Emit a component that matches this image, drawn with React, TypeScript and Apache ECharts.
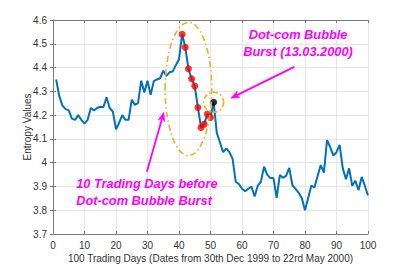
import React, { useEffect, useRef } from "react";
import * as echarts from "echarts";

const days: number[] = Array.from({ length: 100 }, (_, i) => i + 1);
const entropy: number[] = [
  4.35, 4.28, 4.24, 4.225, 4.22, 4.185, 4.18, 4.2, 4.18, 4.165,
  4.18, 4.23, 4.22, 4.23, 4.235, 4.233, 4.275, 4.23, 4.215, 4.14,
  4.168, 4.2, 4.18, 4.18, 4.265, 4.243, 4.25, 4.345, 4.295, 4.345,
  4.285, 4.343, 4.35, 4.355, 4.387, 4.365, 4.38, 4.383, 4.41, 4.435,
  4.54, 4.485, 4.395, 4.353, 4.322, 4.232, 4.148, 4.162, 4.205, 4.19,
  4.254, 4.125, 4.086, 4.044, 4.06, 4.044, 4.017, 3.92, 3.91, 3.89,
  3.88, 3.89, 3.9, 3.858, 3.903, 3.92, 3.983, 3.95, 3.935, 3.935,
  3.852, 3.948, 3.937, 3.944, 3.978, 3.905, 3.89, 3.873, 3.85, 3.8,
  3.85, 3.903, 3.896, 3.944, 3.99, 3.958, 4.095, 4.065, 4.03, 4.044,
  4.075, 3.976, 3.93, 3.976, 3.903, 3.924, 3.884, 3.94, 3.903, 3.862,
];
const burstDay = 51;
const preDays: number[] = [41, 42, 43, 44, 45, 46, 47, 48, 49, 50];
const xTicks = { min: 0, max: 100, interval: 10 };
const yTicks = { min: 3.7, max: 4.6, interval: 0.1 };

const FONT = "Liberation Sans, Arial, sans-serif";
const MAG = "#FF00FF";
const ORANGE = "#EDB120";

export default function App() {
  const ref = useRef<HTMLDivElement>(null);
  useEffect(() => {
    if (!ref.current) return;
    document.body.style.margin = "0";
    const chart = echarts.init(ref.current, null, { renderer: "svg" });
    const axisLine = { show: true, lineStyle: { color: "#7a7a7a", width: 1 } };
    const tick = { show: true, inside: true, length: 3, lineStyle: { color: "#7a7a7a" } };
    chart.setOption({
      animation: false,
      grid: { left: 53, right: 39, top: 20, bottom: 29.5 },
      xAxis: [
        {
          type: "value", min: xTicks.min, max: xTicks.max, interval: xTicks.interval,
          axisLine, axisTick: tick,
          axisLabel: { color: "#333", fontSize: 10, fontFamily: FONT, margin: 6 },
          splitLine: { show: true, lineStyle: { color: "#e6e6e6", width: 1 } },
          name: "100 Trading Days (Dates from 30th Dec 1999 to 22rd May 2000)",
          nameLocation: "middle", nameGap: 19, nameMoveOverlap: false,
          nameTextStyle: { color: "#333", fontSize: 10, fontFamily: FONT },
        },
        {
          type: "value", position: "top", min: xTicks.min, max: xTicks.max, interval: xTicks.interval,
          axisLine, axisTick: tick, axisLabel: { show: false }, splitLine: { show: false },
        },
      ],
      yAxis: [
        {
          type: "value", min: yTicks.min, max: yTicks.max, interval: yTicks.interval,
          axisLine, axisTick: tick,
          axisLabel: { color: "#333", fontSize: 10, fontFamily: FONT, margin: 6 },
          splitLine: { show: true, lineStyle: { color: "#e6e6e6", width: 1 } },
          name: "Entropy Values", nameLocation: "middle", nameGap: 21, nameMoveOverlap: false,
          nameTextStyle: { color: "#333", fontSize: 10, fontFamily: FONT },
        },
        {
          type: "value", position: "right", min: yTicks.min, max: yTicks.max, interval: yTicks.interval,
          axisLine, axisTick: tick, axisLabel: { show: false }, splitLine: { show: false },
        },
      ],
      series: [
        {
          type: "line",
          data: days.map((d, i) => [d, entropy[i]]),
          showSymbol: false, symbol: "none",
          lineStyle: { color: "#0072BD", width: 2 },
          z: 2,
        },
        {
          type: "scatter",
          data: preDays.map((d) => [d, entropy[d - 1]]),
          symbol: "circle", symbolSize: 7,
          itemStyle: { color: "#FF0000" },
          z: 3,
        },
        {
          type: "scatter",
          data: [[burstDay, entropy[burstDay - 1]]],
          symbol: "circle", symbolSize: 7,
          itemStyle: { color: "#000000" },
          z: 4,
        },
      ],
    });

    const px = (x: number, y: number) => chart.convertToPixel({ gridIndex: 0 }, [x, y]) as number[];

    const arrow = (from: number[], to: number[]) => {
      const a = px(from[0], from[1]);
      const b = px(to[0], to[1]);
      const dx = b[0] - a[0], dy = b[1] - a[1];
      const L = Math.hypot(dx, dy);
      const ux = dx / L, uy = dy / L;
      const nx = -uy, ny = ux;
      const hl = 9, hw = 3.5, notch = 6.5;
      const base = [b[0] - ux * hl, b[1] - uy * hl];
      const back = [b[0] - ux * notch, b[1] - uy * notch];
      return [
        {
          type: "line",
          shape: { x1: a[0], y1: a[1], x2: back[0], y2: back[1] },
          style: { stroke: MAG, lineWidth: 1.8 },
          z: 10,
        },
        {
          type: "polygon",
          shape: {
            points: [
              [b[0], b[1]],
              [base[0] + nx * hw, base[1] + ny * hw],
              [back[0], back[1]],
              [base[0] - nx * hw, base[1] - ny * hw],
            ],
          },
          style: { fill: MAG, stroke: MAG, lineWidth: 0.5 },
          z: 10,
        },
      ];
    };

    const txt = (s: string, x: number, y: number) => {
      const p = px(x, y);
      return {
        type: "text",
        x: p[0], y: p[1],
        style: {
          text: s, fill: MAG, fontSize: 12.8, fontWeight: "bold", fontStyle: "italic",
          fontFamily: FONT, align: "center", verticalAlign: "middle",
        },
        z: 10,
      };
    };

    const ec = px(43, 4.31);
    const er = px(43 + 7.4, 4.31 - 0.28);
    const bc = px(burstDay, entropy[burstDay - 1]);

    chart.setOption({
      graphic: [
        {
          type: "ellipse",
          shape: { cx: ec[0], cy: ec[1], rx: er[0] - ec[0], ry: er[1] - ec[1] },
          style: { fill: "none", stroke: ORANGE, lineWidth: 1.6, lineDash: [6, 3, 1.5, 3] },
          z: 9,
        },
        {
          type: "circle",
          shape: { cx: bc[0], cy: bc[1], r: 10 },
          style: { fill: "none", stroke: ORANGE, lineWidth: 1.6, lineDash: [5, 2.5, 1.5, 2.5] },
          z: 9,
        },
        ...arrow([76.6, 4.403], [56.4, 4.271]),
        ...arrow([29.8, 3.962], [35.2, 4.212]),
        txt("Dot-com Bubble", 77.8, 4.538),
        txt("Burst (13.03.2000)", 77.8, 4.468),
        txt("10 Trading Days before", 29.8, 3.913),
        txt("Dot-com Bubble Burst", 28.9, 3.839),
      ],
    });
    return () => chart.dispose();
  }, []);
  return <div ref={ref} style={{ width: 407, height: 268 }} />;
}
